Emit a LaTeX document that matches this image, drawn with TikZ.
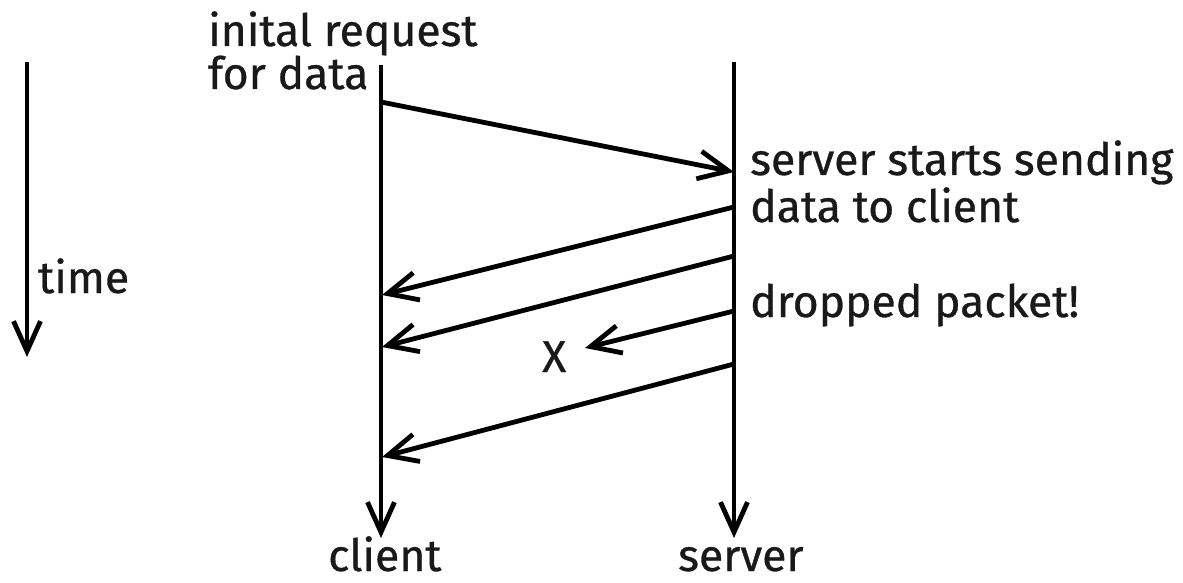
\documentclass[tikz,border=0pt]{standalone}
\usepackage{fontspec}
\setmainfont{Fira Sans}
\usetikzlibrary{arrows.meta}
\begin{document}
\begin{tikzpicture}[x=1pt,y=-1pt,
  line/.style={line width=4.8pt,-{Straight Barb[length=30pt,width=27pt,line width=4.8pt]}},
  msg/.style={line width=4.8pt,-{Straight Barb[length=30pt,width=28pt,line width=4.8pt]}},
  lbl/.style={anchor=base west,inner sep=0pt,font=\fontsize{44.5}{46}\selectfont\addfontfeatures{FakeBold=0.7},text=black!90}]
\useasboundingbox (0,0) rectangle (1183,583);
% lifelines
\coordinate (ttop) at (27,62);   \coordinate (tbot) at (27,357);
\coordinate (ctop) at (381,65);  \coordinate (cbot) at (381,538);
\coordinate (stop) at (734,62);  \coordinate (sbot) at (734,538);
\draw[line] (ttop) -- (tbot);
\draw[line] (ctop) -- (cbot);
\draw[line] (stop) -- (sbot);
% messages
\coordinate (c1) at (381,102); \coordinate (s1) at (734,172);
\coordinate (s2) at (734,207); \coordinate (c2) at (382,295);
\coordinate (s3) at (734,256); \coordinate (c3) at (382,347);
\coordinate (s4) at (734,311); \coordinate (x4) at (585,348);
\coordinate (s5) at (734,364); \coordinate (c5) at (382,457);
\draw[msg] (c1) -- (s1);
\draw[msg] (s2) -- (c2);
\draw[msg] (s3) -- (c3);
\draw[msg] (s4) -- (x4);
\draw[msg] (s5) -- (c5);
% labels
\node[lbl] (req1) at (208,46) {inital request};
\node[lbl] (req2) at (208,89) {for data};
\node[lbl] (srv1) at (750,175) {server starts sending};
\node[lbl] (srv2) at (750,222) {data to client};
\node[lbl] (drop) at (750,317) {dropped packet!};
\node[lbl] (time) at (38,293) {time};
\node[lbl] (xmark) at (542,372) {X};
\node[lbl] (client) at (328,571) {client};
\node[lbl] (server) at (678,571) {server};
\end{tikzpicture}
\end{document}
